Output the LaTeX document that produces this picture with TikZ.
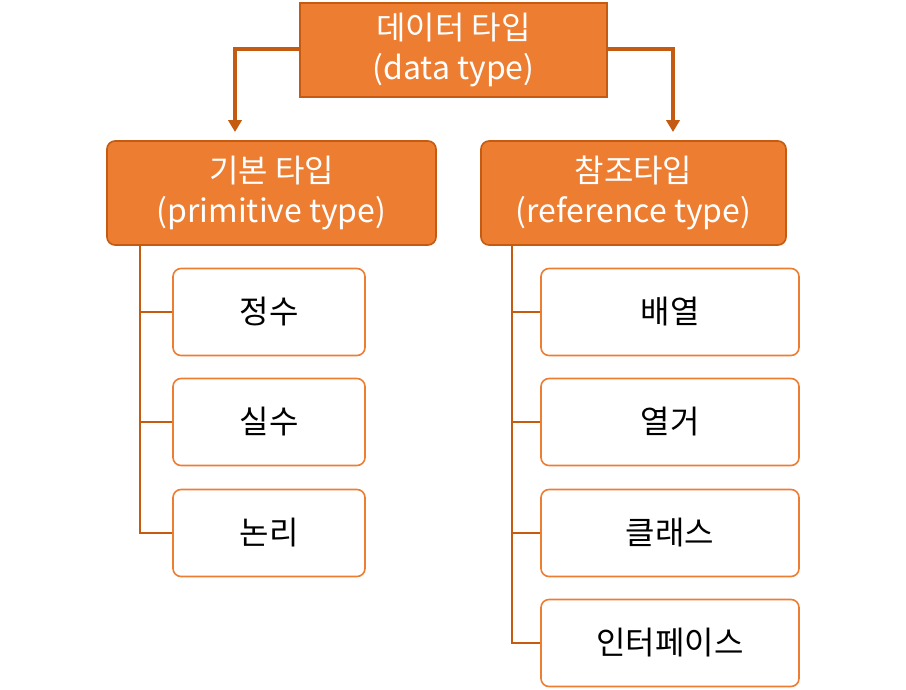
\documentclass[tikz,border=0pt]{standalone}
\usepackage{fontspec}
\setmainfont{Noto Sans CJK KR}
\usetikzlibrary{arrows.meta}
\definecolor{orfill}{HTML}{ED7D31}
\definecolor{ordark}{HTML}{C55A11}
\definecolor{orline}{HTML}{ED7D31}
\tikzset{
  head/.style={draw=ordark, fill=orfill, line width=1.2pt, text=white, align=center, inner sep=0pt,
    font=\fontsize{24}{30}\selectfont},
  leaf/.style={draw=orline, fill=white, line width=1.2pt, rounded corners=6pt, inner sep=0pt,
    font=\fontsize{24}{28}\selectfont, text=black},
  conn/.style={draw=ordark, line width=1pt},
  bigarrow/.style={draw=ordark, line width=2.4pt, -{Triangle[length=9pt,width=10pt]}}
}
\begin{document}
\begin{tikzpicture}[x=0.75pt,y=-0.75pt]
\useasboundingbox (0,0) rectangle (906,689);
% top
\node[head, minimum width=307*0.75pt, minimum height=94*0.75pt] (top) at (453.5,50) {데이터 타입\\(data type)};
\node[head, rounded corners=6pt, minimum width=329*0.75pt, minimum height=104*0.75pt] (prim) at (271.5,193) {기본 타입\\(primitive type)};
\node[head, rounded corners=6pt, minimum width=305*0.75pt, minimum height=104*0.75pt] (ref) at (633.5,193) {참조타입\\(reference type)};
\coordinate (la) at (235,132);
\coordinate (ra) at (673,132);
\draw[bigarrow] (top.west |- 0,49) -| (la);
\draw[bigarrow] (top.east |- 0,49) -| (ra);
% left leaves
\foreach \n/\t/\y in {p1/정수/312, p2/실수/422, p3/논리/533}{
  \node[leaf, minimum width=192*0.75pt, minimum height=87*0.75pt] (\n) at (269,\y) {\t};
}
\foreach \n/\t/\y in {r1/배열/312, r2/열거/422, r3/클래스/533, r4/인터페이스/643}{
  \node[leaf, minimum width=258*0.75pt, minimum height=87*0.75pt] (\n) at (670,\y) {\t};
}
\coordinate (lt) at (140,245);
\coordinate (rt) at (512,245);
\draw[conn] (lt) |- (p3.west);
\draw[conn] (lt |- p1.west) -- (p1.west);
\draw[conn] (lt |- p2.west) -- (p2.west);
\draw[conn] (rt) |- (r4.west);
\draw[conn] (rt |- r1.west) -- (r1.west);
\draw[conn] (rt |- r2.west) -- (r2.west);
\draw[conn] (rt |- r3.west) -- (r3.west);
\end{tikzpicture}
\end{document}
